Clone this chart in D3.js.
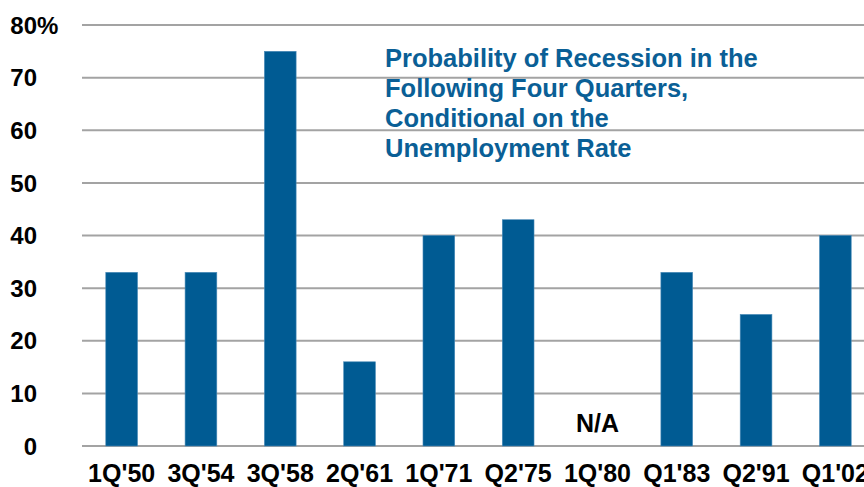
<!DOCTYPE html>
<html>
<head>
<meta charset="utf-8">
<script src="https://cdn.jsdelivr.net/npm/d3@7"></script>
<style>
  body { margin: 0; background: #fff; }
  svg { display: block; font-family: "Liberation Sans", Arial, sans-serif; font-weight: bold; }
</style>
</head>
<body>
<svg id="chart"></svg>
<script>
const width = 864;
const height = 487;

const quarters = ["1Q'50", "3Q'54", "3Q'58", "2Q'61", "1Q'71", "Q2'75", "1Q'80", "Q1'83", "Q2'91", "Q1'02"];
const probability = [33, 33, 75, 16, 40, 43, null, 33, 25, 40];
const yTicks = [0, 10, 20, 30, 40, 50, 60, 70, 80];
const titleLines = [
  "Probability of Recession in the",
  "Following Four Quarters,",
  "Conditional on the",
  "Unemployment Rate"
];

const svg = d3.select("#chart").attr("width", width).attr("height", height);

const x = d3.scaleBand()
  .domain(quarters)
  .range([82, 875])
  .paddingInner(0.6)
  .paddingOuter(0.3);

const y = d3.scaleLinear().domain([0, 80]).range([446, 25]);

// gridlines
svg.append("g")
  .selectAll("line")
  .data(yTicks)
  .enter()
  .append("line")
  .attr("x1", 82)
  .attr("x2", width)
  .attr("y1", d => y(d))
  .attr("y2", d => y(d))
  .attr("stroke", "#a3a3a3")
  .attr("stroke-width", 2);

// y labels
const yLab = svg.append("g");
yLab.selectAll("text")
  .data(yTicks)
  .enter()
  .append("text")
  .attr("x", 37)
  .attr("y", d => y(d))
  .attr("dy", "0.36em")
  .attr("text-anchor", "end")
  .attr("font-size", 24)
  .text(d => d);
yLab.append("text")
  .attr("x", 37)
  .attr("y", y(80))
  .attr("dy", "0.36em")
  .attr("font-size", 24)
  .text("%");

// bars
svg.append("g")
  .selectAll("rect")
  .data(quarters.map((q, i) => ({ q, v: probability[i] })).filter(d => d.v !== null))
  .enter()
  .append("rect")
  .attr("x", d => x(d.q))
  .attr("width", x.bandwidth())
  .attr("y", d => y(d.v))
  .attr("height", d => y(0) - y(d.v))
  .attr("fill", "#005b93")
  .attr("stroke", "#4a8bb8")
  .attr("stroke-width", 0.6);

// N/A marker
quarters.forEach((q, i) => {
  if (probability[i] === null) {
    svg.append("text")
      .attr("x", x(q) + x.bandwidth() / 2)
      .attr("y", 432)
      .attr("text-anchor", "middle")
      .attr("font-size", 25)
      .text("N/A");
  }
});

// x labels
svg.append("g")
  .selectAll("text")
  .data(quarters)
  .enter()
  .append("text")
  .attr("x", d => x(d) + x.bandwidth() / 2)
  .attr("y", 482)
  .attr("text-anchor", "middle")
  .attr("font-size", 25)
  .text(d => d);

// title
svg.append("text")
  .attr("x", 385)
  .attr("y", 67)
  .attr("fill", "#0a5f96")
  .attr("font-size", 25.5)
  .selectAll("tspan")
  .data(titleLines)
  .enter()
  .append("tspan")
  .attr("x", 385)
  .attr("dy", (d, i) => (i === 0 ? 0 : 30))
  .text(d => d);
</script>
</body>
</html>
